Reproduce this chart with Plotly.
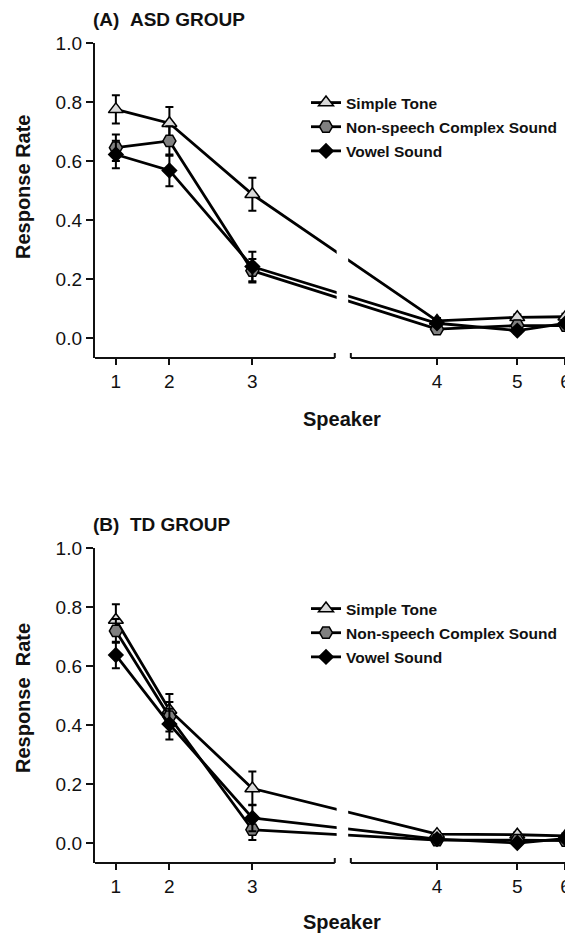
import plotly.graph_objects as go

# ---------------- data ----------------
speakers = ['1', '2', '3', '4', '5', '6']
speaker_x = [0, 20, 51, 120, 150, 168]   # numeric positions of speakers on the x scale
series_names = ['Simple Tone', 'Non-speech Complex Sound', 'Vowel Sound']

asd_tone = [0.775, 0.728, 0.487, 0.058, 0.070, 0.072]
asd_tone_err = [0.048, 0.055, 0.056, 0.010, 0.010, 0.010]
asd_complex = [0.645, 0.668, 0.228, 0.030, 0.042, 0.042]
asd_complex_err = [0.045, 0.050, 0.040, 0.010, 0.010, 0.010]
asd_vowel = [0.622, 0.568, 0.242, 0.050, 0.025, 0.050]
asd_vowel_err = [0.047, 0.054, 0.050, 0.010, 0.010, 0.010]

td_tone = [0.756, 0.451, 0.185, 0.030, 0.028, 0.024]
td_tone_err = [0.053, 0.054, 0.057, 0.008, 0.008, 0.008]
td_complex = [0.719, 0.428, 0.045, 0.010, 0.010, 0.008]
td_complex_err = [0.040, 0.050, 0.035, 0.008, 0.008, 0.008]
td_vowel = [0.637, 0.403, 0.085, 0.013, 0.000, 0.015]
td_vowel_err = [0.045, 0.052, 0.045, 0.008, 0.008, 0.008]

y_ticks = [0.0, 0.2, 0.4, 0.6, 0.8, 1.0]
y_ticktext = ['0.0', '0.2', '0.4', '0.6', '0.8', '1.0']

# ---------------- layout constants ----------------
OFF = 8                      # default page margin of the html body
W, H = 573 - OFF, 939 - OFF
ML, MR = 95 - OFF, 573 - 566
PW = W - ML - MR
FONT = 'Liberation Sans, Arial, Helvetica, sans-serif'
INK = '#111111'

x_range = [-7.8, 168.2]
y_range = [-0.0678, 1.0]
break_left, break_right = 81.8, 87.8
gap_left, gap_right = 82.5, 86.8

styles = [
    dict(symbol='triangle-up', size=13, color='#d9d9d9'),
    dict(symbol='hexagon2', size=13, color='#808080'),
    dict(symbol='diamond', size=11, color='#000000'),
]


def px_x(p):
    """page pixel -> paper x"""
    return (p - OFF - ML) / PW


def px_y(p):
    """page pixel -> paper y"""
    return 1 - (p - OFF) / H


fig = go.Figure()

panels = [
    dict(xa='x', ya='y', legend='legend', tag='A',
         series=[(asd_tone, asd_tone_err), (asd_complex, asd_complex_err), (asd_vowel, asd_vowel_err)]),
    dict(xa='x2', ya='y2', legend='legend2', tag='B',
         series=[(td_tone, td_tone_err), (td_complex, td_complex_err), (td_vowel, td_vowel_err)]),
]

for panel in panels:
    for i, (name, (vals, errs), st) in enumerate(zip(series_names, panel['series'], styles)):
        fig.add_trace(go.Scatter(
            x=speaker_x, y=vals, name=name, mode='lines+markers',
            xaxis=panel['xa'], yaxis=panel['ya'], legend=panel['legend'],
            legendgroup=f"{panel['tag']}{i}",
            line=dict(color='black', width=2.8),
            marker=dict(symbol=st['symbol'], size=st['size'], color=st['color'],
                        line=dict(color='black', width=1.5)),
            error_y=dict(type='data', array=errs, visible=True, color='black',
                         thickness=2, width=4),
            cliponaxis=False,
        ))

axis_common_y = dict(range=y_range, tickvals=y_ticks, ticktext=y_ticktext,
                     showline=True, linecolor=INK, linewidth=2.4,
                     ticks='outside', ticklen=7, tickwidth=2, tickcolor=INK,
                     showgrid=False, zeroline=False, automargin=False,
                     tickfont=dict(family=FONT, size=19, color=INK))
axis_common_x = dict(range=x_range, tickvals=speaker_x, ticktext=speakers,
                     showline=False, ticks='outside', ticklen=6, tickwidth=2,
                     tickcolor=INK, showgrid=False, zeroline=False, automargin=False,
                     ticklabeloverflow='allow',
                     tickfont=dict(family=FONT, size=19, color=INK))

domA = [px_y(358), px_y(43)]
domB = [px_y(863), px_y(548)]

legend_common = dict(xanchor='left', yanchor='top', traceorder='grouped',
                     font=dict(family=FONT, size=15.5, color=INK, weight='bold'),
                     bgcolor='rgba(0,0,0,0)', itemwidth=30, tracegroupgap=1)

fig.update_layout(
    width=W, height=H,
    margin=dict(l=ML, r=MR, t=0, b=0),
    paper_bgcolor='white', plot_bgcolor='white',
    font=dict(family=FONT, color=INK),
    xaxis=dict(domain=[0, 1], anchor='y', **axis_common_x),
    yaxis=dict(domain=domA, anchor='x', **axis_common_y),
    xaxis2=dict(domain=[0, 1], anchor='y2', **axis_common_x),
    yaxis2=dict(domain=domB, anchor='x2', **axis_common_y),
    legend=dict(x=px_x(306), y=px_y(86), **legend_common),
    legend2=dict(x=px_x(306), y=px_y(592), **legend_common),
    showlegend=True,
)

shapes = []
for xa, ya in [('x', 'y'), ('x2', 'y2')]:
    # white gap across the lines at the axis break
    shapes.append(dict(type='rect', xref=xa, yref=ya + ' domain', x0=gap_left, x1=gap_right,
                       y0=0.02, y1=1.0, fillcolor='white', line=dict(width=0), layer='above'))
    # broken x-axis line
    for x0, x1 in [(x_range[0], break_left), (break_right, x_range[1])]:
        shapes.append(dict(type='line', xref=xa, yref=ya + ' domain', x0=x0, x1=x1, y0=0, y1=0,
                           line=dict(color=INK, width=2.2), layer='above'))
    # end ticks at the break
    for xb in [break_left, break_right]:
        shapes.append(dict(type='line', xref=xa, yref=ya, ysizemode='pixel', yanchor=y_range[0],
                           x0=xb, x1=xb, y0=-5, y1=5, line=dict(color=INK, width=2), layer='above'))
fig.update_layout(shapes=shapes)

ann = []
for title, yc in [('(A)\u00a0\u00a0ASD GROUP', 19), ('(B)\u00a0\u00a0TD GROUP', 524)]:
    ann.append(dict(text=title, xref='paper', yref='paper', x=px_x(91), y=px_y(yc),
                    xanchor='left', yanchor='middle', showarrow=False,
                    font=dict(family=FONT, size=19, color=INK, weight='bold')))
for ytitle, yc in [('Response Rate', 187), ('Response\u00a0\u00a0Rate', 698)]:
    ann.append(dict(text=ytitle, xref='paper', yref='paper', x=px_x(23), y=px_y(yc),
                    xanchor='center', yanchor='middle', textangle=-90, showarrow=False,
                    font=dict(family=FONT, size=20, color=INK, weight='bold')))
for yc in [419, 922]:
    ann.append(dict(text='Speaker', xref='paper', yref='paper', x=px_x(342), y=px_y(yc),
                    xanchor='center', yanchor='middle', showarrow=False,
                    font=dict(family=FONT, size=20, color=INK, weight='bold')))
fig.update_layout(annotations=ann)

fig.write_html('out.html')
